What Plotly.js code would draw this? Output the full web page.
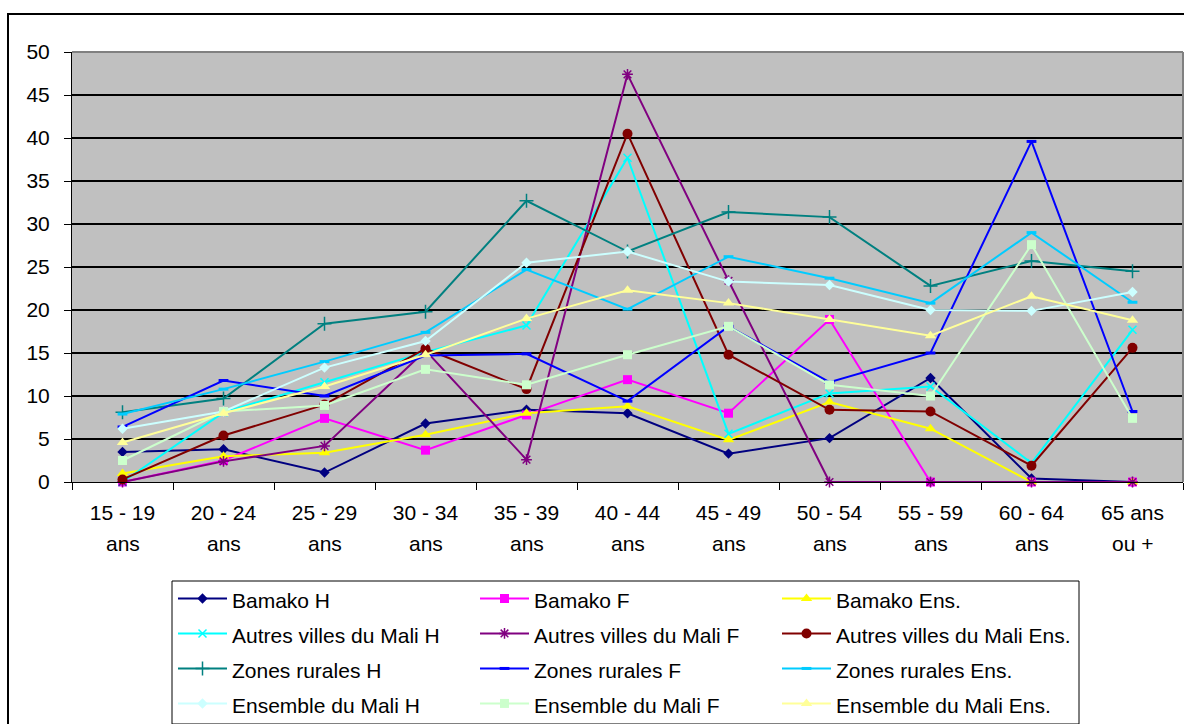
<!DOCTYPE html>
<html>
<head>
<meta charset="utf-8">
<script src="https://cdn.plot.ly/plotly-3.0.1.min.js"></script>
<style>
  html, body { margin: 0; padding: 0; background: #ffffff; }
  #chart { width: 1184px; height: 724px; }
</style>
</head>
<body>
<div id="chart"></div>
<script>
// Age groups: first and second line of each axis label
const ageLine1 = ['15 - 19', '20 - 24', '25 - 29', '30 - 34', '35 - 39', '40 - 44',
                  '45 - 49', '50 - 54', '55 - 59', '60 - 64', '65 ans'];
const ageLine2 = ['ans', 'ans', 'ans', 'ans', 'ans', 'ans', 'ans', 'ans', 'ans', 'ans', 'ou +'];
const categories = ageLine1.map((a, i) => a + ' ' + ageLine2[i]);

// Values (%) by age group
const bamakoH   = [3.5, 3.8, 1.1, 6.8, 8.4, 8.0, 3.3, 5.1, 12.1, 0.4, 0];
const bamakoF   = [0, 2.5, 7.4, 3.7, 7.8, 11.9, 8.0, 18.9, 0, 0, 0];
const bamakoEns = [1.0, 3.0, 3.4, 5.5, 8.0, 8.8, 4.9, 9.3, 6.2, 0, 0];
const autresH   = [0, 8.1, 11.6, 15.1, 18.2, 37.7, 5.6, 10.3, 11.1, 2.2, 17.7];
const autresF   = [0, 2.4, 4.2, 15.3, 2.6, 47.4, 23.4, 0, 0, 0, 0];
const autresEns = [0.3, 5.4, 9.0, 15.5, 10.8, 40.5, 14.8, 8.4, 8.2, 1.9, 15.6];
const ruralH    = [8.1, 9.7, 18.4, 19.8, 32.7, 26.8, 31.4, 30.8, 22.8, 25.7, 24.5];
const ruralF    = [6.4, 11.8, 10.0, 14.7, 14.9, 9.4, 18.1, 11.6, 15.0, 39.6, 8.2];
const ruralEns  = [7.9, 10.8, 14.0, 17.4, 24.7, 20.1, 26.2, 23.7, 20.8, 29.0, 20.9];
const maliH     = [6.2, 8.2, 13.3, 16.4, 25.5, 26.8, 23.3, 22.9, 20.0, 19.9, 22.1];
const maliF     = [2.5, 8.2, 8.9, 13.1, 11.3, 14.8, 18.1, 11.3, 10.0, 27.6, 7.4];
const maliEns   = [4.6, 8.0, 11.1, 14.8, 19.0, 22.3, 20.8, 18.9, 17.0, 21.6, 18.8];

const seriesNames = [
  'Bamako H', 'Bamako F', 'Bamako Ens.',
  'Autres villes du Mali H', 'Autres villes du Mali F', 'Autres villes du Mali Ens.',
  'Zones rurales H', 'Zones rurales F', 'Zones rurales Ens.',
  'Ensemble du Mali H', 'Ensemble du Mali F', 'Ensemble du Mali Ens.'
];
const seriesValues = [bamakoH, bamakoF, bamakoEns, autresH, autresF, autresEns,
                      ruralH, ruralF, ruralEns, maliH, maliF, maliEns];

// Line colour and marker style for each series
const styles = [
  { color: '#000080', symbol: 'diamond', size: 8 },
  { color: '#FF00FF', symbol: 'square', size: 9 },
  { color: '#FFFF00', symbol: 'triangle-up', size: 10 },
  { color: '#00FFFF', symbol: 'x-thin', size: 8, lw: 1.5 },
  { color: '#800080', symbol: 'asterisk', size: 9, lw: 1.5 },
  { color: '#800000', symbol: 'circle', size: 10 },
  { color: '#008080', symbol: 'cross-thin', size: 10, lw: 1.5 },
  { color: '#0000FF', symbol: 'line-ew', size: 7, lw: 3 },
  { color: '#00CCFF', symbol: 'line-ew', size: 7, lw: 3 },
  { color: '#CCFFFF', symbol: 'diamond', size: 8 },
  { color: '#CCFFCC', symbol: 'square', size: 9 },
  { color: '#FFFF99', symbol: 'triangle-up', size: 10 }
];

const TEXT_SIZE = 21;

const traces = seriesNames.map((name, i) => {
  const s = styles[i];
  return {
    type: 'scatter',
    mode: 'lines+markers',
    name: '<span style="font-size:' + TEXT_SIZE + 'px">' + name + '</span>',
    x: categories,
    y: seriesValues[i],
    cliponaxis: false,
    line: { color: s.color, width: 2 },
    marker: {
      symbol: s.symbol,
      size: s.size,
      color: s.color,
      line: { color: s.color, width: s.lw || 0 }
    }
  };
});

// Plot area geometry in pixels
const W = 1184, H = 724;
const L = 72, R = 1183, T = 52, B = 482;
const pw = R - L, ph = B - T;
const px = x => (x - L) / pw;
const py = y => (B - y) / ph;

const font = { family: 'Liberation Sans, Arial, sans-serif', size: TEXT_SIZE, color: '#000000' };

const secondLine = ageLine2.map((t, i) => ({
  text: t,
  xref: 'x', yref: 'paper',
  x: categories[i], y: py(543),
  xanchor: 'center', yanchor: 'middle',
  showarrow: false,
  font: font
}));

const layout = {
  width: W, height: H,
  margin: { l: L, r: W - R, t: T, b: H - B, pad: 0, autoexpand: false },
  paper_bgcolor: '#ffffff',
  plot_bgcolor: '#C0C0C0',
  font: font,
  showlegend: true,
  xaxis: {
    type: 'category',
    range: [-0.5, 10.5],
    tickmode: 'array',
    tickvals: categories,
    ticktext: ageLine1,
    tickson: 'boundaries',
    ticks: 'outside', ticklen: 7, tickcolor: '#000000', tickwidth: 1,
    showgrid: false, zeroline: false,
    showline: true, linecolor: '#000000', linewidth: 1,
    tickfont: font,
    ticklabelstandoff: 12,
    automargin: false,
    fixedrange: true
  },
  yaxis: {
    range: [0, 50],
    dtick: 5, tick0: 0,
    ticks: 'outside', ticklen: 7, tickcolor: '#000000', tickwidth: 1,
    showgrid: true, gridcolor: '#000000', gridwidth: 1.5,
    zeroline: false,
    showline: true, linecolor: '#000000', linewidth: 1,
    tickfont: font,
    ticklabelstandoff: 10,
    automargin: false,
    fixedrange: true
  },
  legend: {
    orientation: 'h',
    x: px(173), xanchor: 'left',
    y: py(576), yanchor: 'top',
    entrywidth: 238, entrywidthmode: 'pixels',
    bgcolor: 'rgba(0,0,0,0)',
    borderwidth: 0,
    // larger base size sets the row pitch; entry text is sized by its span
    font: { family: font.family, size: 24.6, color: '#000000' },
    itemwidth: 49,
    traceorder: 'normal'
  },
  annotations: secondLine,
  shapes: [
    // plot-area border on top and right
    { type: 'line', xref: 'paper', yref: 'paper', x0: 0, x1: 1, y0: 1, y1: 1,
      line: { color: '#808080', width: 2 }, layer: 'above' },
    { type: 'line', xref: 'paper', yref: 'paper', x0: 1, x1: 1, y0: 0, y1: 1,
      line: { color: '#808080', width: 2 }, layer: 'above' },
    // chart frame
    { type: 'rect', xref: 'paper', yref: 'paper',
      x0: px(8), x1: px(1195), y0: py(14), y1: py(740),
      line: { color: '#000000', width: 2 }, fillcolor: 'rgba(0,0,0,0)', layer: 'below' },
    // legend frame
    { type: 'rect', xref: 'paper', yref: 'paper',
      x0: px(172), x1: px(1079), y0: py(581), y1: py(724),
      line: { color: '#000000', width: 1 }, fillcolor: '#ffffff', layer: 'below' }
  ]
};

Plotly.newPlot('chart', traces, layout, { displayModeBar: false, staticPlot: true });
</script>
</body>
</html>
